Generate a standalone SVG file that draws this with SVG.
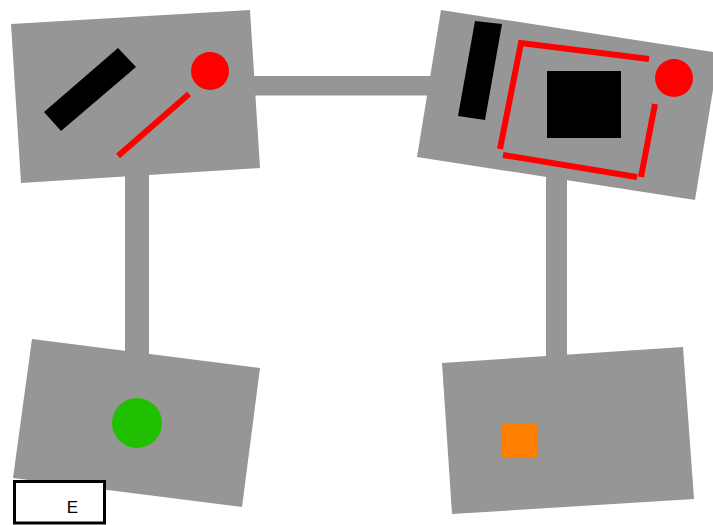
<svg xmlns="http://www.w3.org/2000/svg" width="713" height="525" viewBox="0 0 713 525">
<style>
.room{fill:#969696}
.corr{fill:#969696}
.wall{stroke:#ff0000;stroke-width:6;fill:none;stroke-linecap:butt}
.blk{fill:#000000}
.red{fill:#ff0000}
.lbl{font-family:"Liberation Sans",Arial,sans-serif;font-size:17px;fill:#000000}
</style>
<rect width="713" height="525" fill="#ffffff"/>
<g id="connectors">
<rect class="corr" x="245" y="76" width="190" height="19.5"/>
<rect class="corr" x="125" y="165" width="24" height="195"/>
<rect class="corr" x="546" y="170" width="21" height="190"/>
</g>
<g id="room1">
<polygon class="room" points="11,24 250,10 260,168 21,183"/>
<polygon class="blk" points="44,112 118,48 136,67 61,131"/>
<circle class="red" cx="210" cy="71" r="19"/>
<line class="wall" x1="118" y1="156" x2="189" y2="94"/>
</g>
<g id="room2">
<polygon class="room" points="441,10 719,53 695,200 417,157"/>
<polygon class="blk" points="475,21 502,24 485,120 458,116"/>
<rect class="blk" x="547" y="71" width="74" height="67"/>
<circle class="red" cx="674" cy="78" r="19"/>
<polyline class="wall" points="649,59 521,43 500,149"/>
<polyline class="wall" points="655,104 641,177"/>
<line class="wall" x1="503" y1="155" x2="637" y2="177"/>
</g>
<g id="room3">
<polygon class="room" points="32,339 260,368 242,507 13,478"/>
<circle cx="137" cy="423" r="25" fill="#20c000"/>
</g>
<g id="room4">
<polygon class="room" points="442,363 683,347 694,499 452,514"/>
<rect x="502" y="423" width="35" height="34" fill="#ff8000"/>
</g>
<g id="legend">
<rect x="14.5" y="481.5" width="90" height="41.5" fill="#ffffff" stroke="#000000" stroke-width="3"/>
<text class="lbl" x="72.5" y="513" text-anchor="middle">E</text>
</g>
</svg>
